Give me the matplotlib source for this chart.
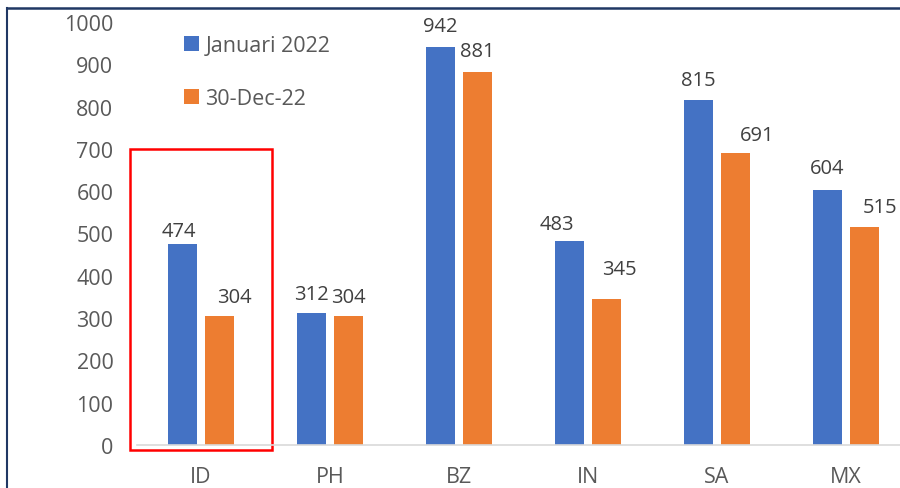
import matplotlib
matplotlib.use('Agg')
import matplotlib.pyplot as plt
from matplotlib.patches import Rectangle
from matplotlib.lines import Line2D
import numpy as np

plt.rcParams['font.family'] = ['Open Sans', 'DejaVu Sans']

countries = ['ID', 'PH', 'BZ', 'IN', 'SA', 'MX']
jan2022 = [474, 312, 942, 483, 815, 604]
dec2022 = [304, 304, 881, 345, 691, 515]
series_names = ['Januari 2022', '30-Dec-22']

# label nudges in pixels (dx, dy above bar top), copied from the hand-placed excel labels
blue_nudge = [(-4, 13), (0, 19), (0, 21), (-13, 17), (0, 20), (0, 22)]
orange_nudge = [(15, 19), (0, 19), (0, 21), (13, 30), (22, 18), (16, 20)]

W, H = 900, 489
fig = plt.figure(figsize=(W/100, H/100), dpi=100)
ax = fig.add_axes([137/W, (H-446)/H, (900-137)/W, (446-23)/H])

x = np.arange(len(countries))
bw = 0.225
off = 0.1434
b1 = ax.bar(x - off, jan2022, bw, color='#4472C4', label=series_names[0])
b2 = ax.bar(x + off, dec2022, bw, color='#ED7D31', label=series_names[1])

for bars, vals, nudges in [(b1, jan2022, blue_nudge), (b2, dec2022, orange_nudge)]:
    for b, v, (dx, dy) in zip(bars, vals, nudges):
        ax.annotate(str(v), (b.get_x() + b.get_width()/2, v),
                    xytext=(dx*0.72, dy*0.72), textcoords='offset points',
                    ha='center', va='center', fontsize=14.5, color='#404040')

ax.set_xlim(-0.496, 5.419)
ax.set_ylim(0, 1000)
ax.set_yticks(range(0, 1001, 100))
ax.set_xticks(x)
ax.set_xticklabels(countries)
ax.tick_params(axis='both', length=0, labelsize=15.5, labelcolor='#595959')
ax.tick_params(axis='y', pad=17)
ax.tick_params(axis='x', pad=15)
for s in ['top', 'right', 'left']:
    ax.spines[s].set_visible(False)
ax.spines['bottom'].set_color('#D9D9D9')
ax.spines['bottom'].set_linewidth(1.2)

leg = ax.legend(loc='upper left', bbox_to_anchor=(184/W, 1 - 36/H), bbox_transform=fig.transFigure,
                frameon=False, fontsize=15.5, handlelength=0.7, handleheight=0.7,
                handletextpad=0.3, labelspacing=1.5, borderpad=0, borderaxespad=0)
for t in leg.get_texts():
    t.set_color('#595959')

# red highlight box round ID
ax.add_patch(Rectangle((-0.55, -12), 1.1, 712, fill=False, edgecolor='#FF0000',
                       linewidth=1.8, clip_on=False))

# dark frame at top and left
fig.add_artist(Line2D([7/W, 7/W], [0, 1 - 9/H], transform=fig.transFigure, color='#203864', lw=1.5))
fig.add_artist(Line2D([7/W, 1], [1 - 9/H, 1 - 9/H], transform=fig.transFigure, color='#203864', lw=1.8))

fig.savefig('out.png', dpi=100)
